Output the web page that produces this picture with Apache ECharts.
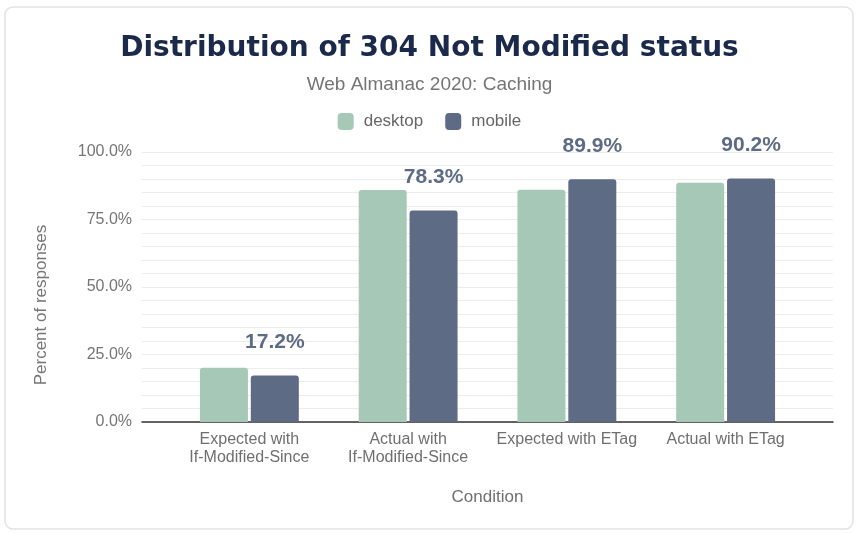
<!DOCTYPE html>
<html>
<head>
<meta charset="UTF-8">
<title>Distribution of 304 Not Modified status</title>
<script src="https://cdn.jsdelivr.net/npm/echarts@6/dist/echarts.min.js"></script>
<style>
html,body{margin:0;padding:0;background:#fff}
#main{width:859px;height:533px}
</style>
</head>
<body>
<div id="main"></div>
<script>
var categories = ['Expected with\nIf-Modified-Since', 'Actual with\nIf-Modified-Since', 'Expected with ETag', 'Actual with ETag'];
var desktop = [20.1, 85.9, 86.0, 88.6];
var mobile = [17.2, 78.3, 89.9, 90.2];

var chart = echarts.init(document.getElementById('main'));
var font = 'Liberation Sans, Arial, sans-serif';

chart.setOption({
	textStyle: {fontFamily: font},
	title: [{
		text: 'Distribution of 304 Not Modified status',
		left: 'center',
		top: 30,
		textStyle: {fontSize: 28, fontWeight: 'bold', color: '#1b2a4b', fontFamily: 'DejaVu Sans'}
	}, {
		text: 'Web Almanac 2020: Caching',
		left: 'center',
		top: 70,
		textStyle: {fontSize: 19, fontWeight: 'normal', color: '#757575', fontFamily: font}
	}],
	legend: {
		top: 108,
		left: 'center',
		itemWidth: 16,
		itemHeight: 17,
		itemGap: 22,
		icon: 'roundRect',
		textStyle: {fontSize: 17, color: '#666', padding: [0, 0, 0, 5]},
		data: ['desktop', 'mobile']
	},
	graphic: [{
		type: 'rect',
		shape: {x: 5, y: 7, width: 848, height: 522, r: 8},
		style: {fill: 'none', stroke: '#e3e3e3', lineWidth: 1.5},
		z: -10
	}, {
		type: 'text',
		x: 41, y: 305,
		rotation: Math.PI / 2,
		style: {text: 'Percent of responses', fill: '#757575', fontSize: 17, fontFamily: font, align: 'center', verticalAlign: 'middle'}
	}],
	grid: [
		{left: 142, right: 26, top: 152, bottom: 111},
		{left: 170, right: 54, top: 152, bottom: 111}
	],
	xAxis: [{
		gridIndex: 0,
		type: 'value',
		min: 0, max: 1,
		axisLabel: {show: false},
		axisTick: {show: false},
		splitLine: {show: false},
		axisLine: {show: true, lineStyle: {color: '#333', width: 1.5}}
	}, {
		gridIndex: 1,
		type: 'category',
		data: categories,
		axisLine: {show: false},
		axisTick: {show: false},
		axisLabel: {fontSize: 16, color: '#6f6f6f', margin: 9, lineHeight: 18, interval: 0},
		name: 'Condition',
		nameLocation: 'middle',
		nameGap: 67,
		nameTextStyle: {fontSize: 17, color: '#6f6f6f'}
	}],
	yAxis: [{
		gridIndex: 0,
		type: 'value',
		min: 0, max: 100,
		interval: 5,
		axisLine: {show: false},
		axisTick: {show: false},
		axisLabel: {
			fontSize: 16, color: '#757575', margin: 10,
			formatter: function (v) { return v % 25 === 0 ? v.toFixed(1) + '%' : ''; }
		},
		splitLine: {lineStyle: {color: '#ececec', width: 1}}
	}, {
		gridIndex: 1,
		type: 'value',
		min: 0, max: 100,
		show: false,
		splitLine: {show: false}
	}],
	series: [{
		name: 'desktop',
		type: 'bar',
		xAxisIndex: 1, yAxisIndex: 1,
		data: desktop,
		barWidth: 48,
		barGap: '6%',
		itemStyle: {color: '#a6c8b7', borderRadius: [3, 3, 0, 0]}
	}, {
		name: 'mobile',
		type: 'bar',
		xAxisIndex: 1, yAxisIndex: 1,
		data: mobile,
		barWidth: 48,
		itemStyle: {color: '#5d6b85', borderRadius: [3, 3, 0, 0]},
		label: {
			show: true,
			position: 'top',
			distance: 23,
			formatter: '{c}%',
			fontSize: 21,
			fontWeight: 'bold',
			color: '#5d6b85'
		}
	}]
});
</script>
</body>
</html>
